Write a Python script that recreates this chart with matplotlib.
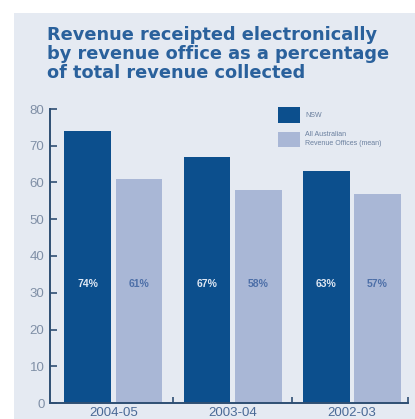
import matplotlib
matplotlib.use("Agg")
import matplotlib.pyplot as plt
from matplotlib.patches import Rectangle
import numpy as np

years = ["2004-05", "2003-04", "2002-03"]
nsw = [74, 67, 63]
all_offices = [61, 58, 57]
series_names = ["NSW", "All Australian\nRevenue Offices (mean)"]
title = "Revenue receipted electronically\nby revenue office as a percentage\nof total revenue collected"

DARK = "#0c4f8d"
LIGHT = "#a9b7d6"
BG = "#e5eaf2"
TITLE = "#2a619c"
AXIS = "#2f4f73"
TICKTXT = "#7f8fa6"

plt.rcParams["font.family"] = ["Liberation Sans", "DejaVu Sans"]

fig = plt.figure(figsize=(4.15, 4.19), dpi=100)
fig.patch.set_facecolor("white")
fig.add_artist(Rectangle((14 / 415, 0), 1, 1 - 13 / 419, transform=fig.transFigure,
                         facecolor=BG, edgecolor="none", zorder=0))

ax = fig.add_axes([50 / 415, 16 / 419, 358 / 415, 294 / 419])
ax.set_facecolor(BG)

x = np.arange(len(years))
w = 0.39
off = 0.215
ax.bar(x - off, nsw, w, color=DARK, zorder=2)
ax.bar(x + off, all_offices, w, color=LIGHT, zorder=2)

for xi, v in zip(x, nsw):
    ax.text(xi - off, 32.5, f"{v}%", ha="center", va="center", fontsize=7.5,
            color="#dfe7f3", fontweight="bold")
for xi, v in zip(x, all_offices):
    ax.text(xi + off, 32.5, f"{v}%", ha="center", va="center", fontsize=7.5,
            color="#4d6fa8", fontweight="bold")

ax.set_xlim(-0.53, 2.47)
ax.set_ylim(0, 80)
ax.set_yticks(range(0, 81, 10))
ax.tick_params(axis="y", direction="in", length=5, width=1.2, color=AXIS,
               labelcolor=TICKTXT, labelsize=9.5, pad=4)
ax.set_xticks([0.5, 1.5, 2.47])
ax.set_xticklabels([])
ax.tick_params(axis="x", direction="in", length=4, width=1.2, color=AXIS)
for xi, lab in zip(x, years):
    ax.text(xi, -1.0, lab, ha="center", va="top", fontsize=9.5, color="#4a6a96",
            transform=ax.transData, clip_on=False)

for s in ["top", "right"]:
    ax.spines[s].set_visible(False)
for s in ["left", "bottom"]:
    ax.spines[s].set_color(AXIS)
    ax.spines[s].set_linewidth(1.4)

fig.text(47 / 415, 1 - 26 / 419, title, ha="left", va="top", fontsize=12.8,
         fontweight="bold", color=TITLE, linespacing=1.07,
         family=["DejaVu Sans"])

# legend
fig.add_artist(Rectangle((278 / 415, 1 - 123 / 419), 22 / 415, 16 / 419,
                         transform=fig.transFigure, facecolor=DARK, edgecolor="none"))
fig.add_artist(Rectangle((278 / 415, 1 - 147 / 419), 22 / 415, 15 / 419,
                         transform=fig.transFigure, facecolor=LIGHT, edgecolor="none"))
fig.text(305 / 415, 1 - 115 / 419, series_names[0], fontsize=5, color="#6a7f9e",
         va="center", ha="left")
fig.text(305 / 415, 1 - 139 / 419, series_names[1], fontsize=5, color="#6a7f9e",
         va="center", ha="left", linespacing=1.3)

fig.savefig("out.png", dpi=100, facecolor=fig.get_facecolor())
